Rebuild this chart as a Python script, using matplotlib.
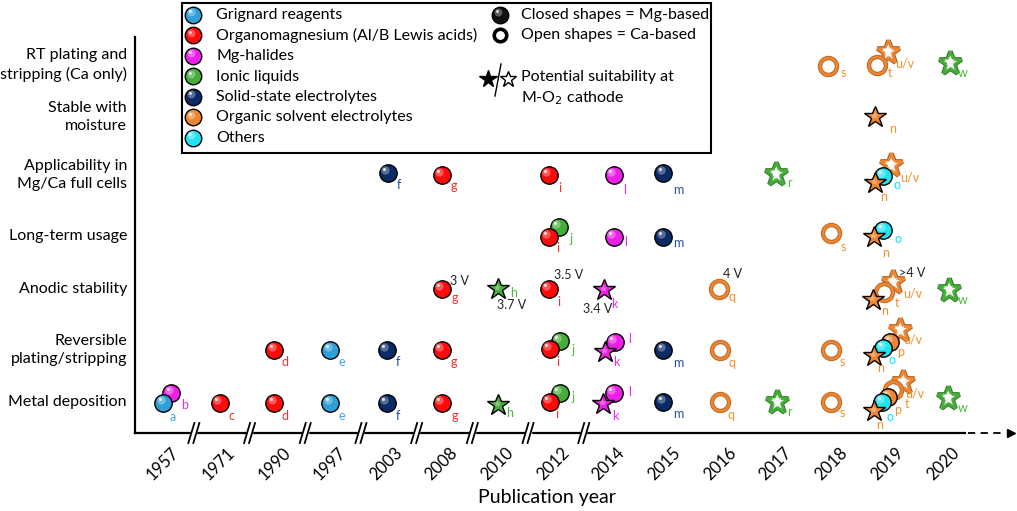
import matplotlib.pyplot as plt
from matplotlib.patches import Rectangle
from matplotlib.colors import to_rgb

plt.rcParams['font.family'] = ['Lato', 'DejaVu Sans']

# ---- data ----
years = ['1957', '1971', '1990', '1997', '2003', '2008', '2010', '2012',
         '2014', '2015', '2016', '2017', '2018', '2019', '2020']
criteria = ['Metal deposition', 'Reversible\nplating/stripping', 'Anodic stability',
            'Long-term usage', 'Applicability in\nMg/Ca full cells',
            'Stable with\nmoisture', 'RT plating and\nstripping (Ca only)']
classes = ['Grignard reagents', 'Organomagnesium (Al/B Lewis acids)', 'Mg-halides',
           'Ionic liquids', 'Solid-state electrolytes', 'Organic solvent electrolytes',
           'Others']
class_colors = ['#2f9fd8', '#ff0a0a', '#ee1fe6', '#46ad3a', '#0b2a66', '#ee8530', '#22e3f0']
text_colors = ['#43a6e0', '#ff2a2a', '#f028ec', '#4cbb3c', '#24509e', '#f4902a', '#00e5ff']

refs = ['a', 'b', 'c', 'd', 'e', 'f', 'g', 'h', 'i', 'j', 'k', 'l', 'm',
        'n', 'o', 'p', 'q', 'r', 's', 't', 'u/v', 'w']
ref_class = [0, 2, 1, 1, 0, 4, 1, 3, 1, 3, 2, 2, 4, 5, 6, 5, 5, 3, 5, 5, 5, 3]
ref_year = ['1957', '1957', '1971', '1990', '1997', '2003', '2008', '2010', '2012', '2012',
            '2014', '2014', '2015', '2019', '2019', '2019', '2016', '2017', '2018', '2019',
            '2019', '2020']
ref_ca = [0, 0, 0, 0, 0, 0, 0, 0, 0, 0, 0, 0, 0, 0, 0, 0, 1, 1, 1, 1, 1, 1]
ref_star = [0, 0, 0, 0, 0, 0, 0, 1, 0, 0, 1, 0, 0, 1, 0, 0, 0, 1, 0, 0, 1, 1]
ref_rows = [[0], [0], [0], [0, 1], [0, 1], [0, 1, 4], [0, 1, 2, 4], [0, 2],
            [0, 1, 2, 3, 4], [0, 1, 3], [0, 1, 2], [0, 1, 3, 4], [0, 1, 3, 4],
            [0, 1, 2, 3, 4, 5], [0, 1, 3, 4], [0, 1], [0, 1, 2], [0, 4],
            [0, 1, 3, 6], [0, 2, 6], [0, 1, 2, 4, 6], [0, 2, 6]]
anodic_limit = {'g': '3 V', 'h': '3.7 V', 'i': '3.5 V', 'k': '3.4 V', 'q': '4 V', 'u/v': '>4 V'}

# ---- layout (pixels) ----
W, H = 1017, 511
year_x = [163 + 55.7 * i for i in range(len(years))]
row_y = [402, 350, 289, 236, 175, 117, 65]
# (ref, row): marker nudge dx, dy, label offset dx, dy
nudge = {
    ('a', 0): (0, 1, 10, 14), ('b', 0): (8, -9, 14, 12), ('c', 0): (1, 1, 12, 13),
    ('d', 0): (0, 1, 11, 13), ('e', 0): (0, 1, 12, 13), ('f', 0): (1, 1, 11, 13),
    ('g', 0): (0, 1, 13, 13), ('h', 0): (1, 3, 11, 8), ('i', 0): (-3, 0, 7, 12),
    ('j', 0): (7, -9, 13, 4), ('k', 0): (-6, 2, 13, 12), ('l', 0): (5, -9, 16, -1),
    ('m', 0): (-1, 0, 15, 12), ('q', 0): (0, 0, 11, 13), ('r', 0): (1, 0, 13, 10),
    ('s', 0): (0, 0, 11, 11), ('n', 0): (-13, 9, 6, 14), ('o', 0): (-5, 0, 8, 15),
    ('p', 0): (1, -5, 10, 13), ('t', 0): (6, -12, 14, 14), ('u/v', 0): (16, -20, 12, 12),
    ('w', 0): (5, -4, 15, 10),
    ('d', 1): (0, 0, 11, 12), ('e', 1): (0, 0, 12, 12), ('f', 1): (1, 0, 11, 12),
    ('g', 1): (0, 0, 12, 12), ('i', 1): (-3, -1, 8, 13), ('j', 1): (7, -9, 13, 9),
    ('k', 1): (-4, 2, 12, 10), ('l', 1): (6, -8, 15, -3), ('m', 1): (-1, 0, 15, 13),
    ('q', 1): (0, 0, 12, 13), ('s', 1): (0, 0, 11, 12), ('n', 1): (-13, 6, 7, 12),
    ('o', 1): (-4, -2, 9, 12), ('p', 1): (3, -8, 11, 10), ('u/v', 1): (13, -20, 13, 10),
    ('g', 2): (0, 0, 13, 9), ('h', 2): (1, 0, 15, 4), ('i', 2): (-4, 0, 10, 13),
    ('k', 2): (-5, 1, 11, 14), ('q', 2): (-1, 0, 13, 8), ('n', 2): (-14, 11, 12, 11),
    ('t', 2): (-3, 3, 13, 11), ('u/v', 2): (6, -7, 20, 11), ('w', 2): (6, 1, 14, 10),
    ('i', 3): (-4, 1, 9, 11), ('j', 3): (6, -9, 12, 12), ('l', 3): (5, 1, 12, 5),
    ('m', 3): (-1, 1, 15, 6), ('s', 3): (0, -3, 12, 14), ('n', 3): (-13, 1, 12, 16),
    ('o', 3): (-4, -6, 15, 9),
    ('f', 4): (2, -2, 11, 12), ('g', 4): (0, 0, 12, 11), ('i', 4): (-4, 0, 11, 13),
    ('l', 4): (5, 0, 11, 15), ('m', 4): (-1, -2, 15, 17), ('r', 4): (0, -1, 14, 9),
    ('n', 4): (-12, 8, 9, 14), ('o', 4): (-4, 1, 14, 9), ('u/v', 4): (4, -10, 19, 12),
    ('n', 5): (-12, 0, 18, 12),
    ('s', 6): (-3, 1, 15, 7), ('t', 6): (-10, 0, 13, 8), ('u/v', 6): (1, -13, 17, 11),
    ('w', 6): (7, -2, 13, 10),
}
volt_off = {'g': (18, -8), 'h': (13, 16), 'i': (20, -14), 'k': (-6, 19), 'q': (14, -15),
            'u/v': (19, -9)}


def lighten(c, f=0.55):
    r, g, b = to_rgb(c)
    return (r + (1 - r) * f, g + (1 - g) * f, b + (1 - b) * f)


def darken(c, f=0.7):
    r, g, b = to_rgb(c)
    return (r * f, g * f, b * f)


def draw_mark(x, y, color, ca, star, z, ms_scale=1.0):
    if star and ca:
        ax.plot(x, y, marker='*', ms=17 * ms_scale, mfc='#f2f2f2', mec=darken(color), mew=3.4, zorder=z)
        ax.plot(x, y, marker='*', ms=17 * ms_scale, mfc='#f2f2f2', mec=color, mew=2.0, zorder=z)
        ax.plot(x - 1, y - 2, marker='*', ms=7 * ms_scale, mfc='white', mec='none', zorder=z)
    elif star:
        ax.plot(x, y, marker='*', ms=16.5 * ms_scale, mfc=color, mec='black', mew=1.0, zorder=z)
        ax.plot(x - 1, y - 2, marker='*', ms=6 * ms_scale, mfc=lighten(color, 0.35), mec='none', zorder=z)
    elif ca:
        ax.plot(x, y, 'o', ms=12.2 * ms_scale, mfc='white', mec=darken(color, 0.8), mew=3.2, zorder=z)
        ax.plot(x, y, 'o', ms=12.2 * ms_scale, mfc='none', mec=color, mew=1.8, zorder=z)
    else:
        ax.plot(x, y, 'o', ms=12.5 * ms_scale, mfc=color, mec='black', mew=1.0, zorder=z)
        ax.plot(x - 2.5, y - 2.5, 'o', ms=6 * ms_scale, mfc=lighten(color, 0.35), mec='none',
                alpha=0.9, zorder=z)
        ax.plot(x - 3.5, y - 3.5, 'o', ms=2.2 * ms_scale, mfc='white', mec='none', alpha=0.8, zorder=z)


fig = plt.figure(figsize=(W / 100, H / 100), dpi=100)
ax = fig.add_axes([0, 0, 1, 1])
ax.set_xlim(0, W)
ax.set_ylim(H, 0)
ax.axis('off')

# axes lines
x_axis_y = 433
ax.plot([135, 135], [37, x_axis_y], color='black', lw=1.6, zorder=2)
ax.plot([135, 965], [x_axis_y, x_axis_y], color='black', lw=1.6, zorder=2)
ax.plot([968, 1006], [x_axis_y, x_axis_y], color='black', lw=1.3, ls=(0, (4, 3)), zorder=2)
ax.plot([1011], [x_axis_y], marker='>', ms=6, color='black', zorder=2)

# axis breaks
for i in range(8):
    bx = (year_x[i] + year_x[i + 1]) / 2 + 3
    ax.add_patch(Rectangle((bx - 2.5, x_axis_y - 3), 5, 6, color='white', zorder=3))
    for off in (-2.5, 2.5):
        ax.plot([bx + off - 3, bx + off + 3], [x_axis_y + 10, x_axis_y - 10], color='black',
                lw=1.3, zorder=4)

# year labels and row labels
for i, yr in enumerate(years):
    ax.text(year_x[i], 464, yr, rotation=45, ha='center', va='center', fontsize=12)
ax.text(547, 497, 'Publication year', ha='center', va='center', fontsize=14)
for k, name in enumerate(criteria):
    ax.text(127, row_y[k], name, ha='right', va='center', fontsize=11.5, linespacing=1.35)

# markers
for idx, ref in enumerate(refs):
    cls = ref_class[idx]
    xi = years.index(ref_year[idx])
    for k in ref_rows[idx]:
        dx, dy, ldx, ldy = nudge.get((ref, k), (0, 0, 12, 12))
        x, y = year_x[xi] + dx, row_y[k] + dy
        draw_mark(x, y, class_colors[cls], ref_ca[idx], ref_star[idx], 50 - idx)
        ax.text(x + ldx, y + ldy, ref, ha='center', va='center', fontsize=9,
                color=text_colors[cls], zorder=60)
        if k == 2 and ref in anodic_limit:
            vx, vy = volt_off[ref]
            ax.text(x + vx, y + vy, anodic_limit[ref], ha='center', va='center', fontsize=9,
                    color='#222222', zorder=60)

# legend box
ax.add_patch(Rectangle((182, 3), 529, 150, fill=False, ec='black', lw=1.5, zorder=5))
for j, name in enumerate(classes):
    ly = 15 + 20.5 * j
    draw_mark(193, ly, class_colors[j], 0, 0, 6, ms_scale=0.95)
    ax.text(216, ly, name, ha='left', va='center', fontsize=11.5, zorder=6)
draw_mark(500, 15, '#111111', 0, 0, 6, ms_scale=0.95)
ax.plot(500, 35, 'o', ms=9, mfc='white', mec='black', mew=2.6, zorder=6)
ax.text(521, 15, 'Closed shapes = Mg-based', ha='left', va='center', fontsize=11.5, zorder=6)
ax.text(521, 35, 'Open shapes = Ca-based', ha='left', va='center', fontsize=11.5, zorder=6)
ax.plot(488, 79, marker='*', ms=13, color='black', zorder=6)
ax.plot([495, 501], [96, 64], color='black', lw=1.0, zorder=6)
ax.plot(508, 79, marker='*', ms=12, mfc='white', mec='black', mew=1.0, zorder=6)
ax.text(521, 77, 'Potential suitability at', ha='left', va='center', fontsize=11.5, zorder=6)
ax.text(521, 98, 'M-O$_2$ cathode', ha='left', va='center', fontsize=11.5, zorder=6)

fig.savefig('out.png', dpi=100)
